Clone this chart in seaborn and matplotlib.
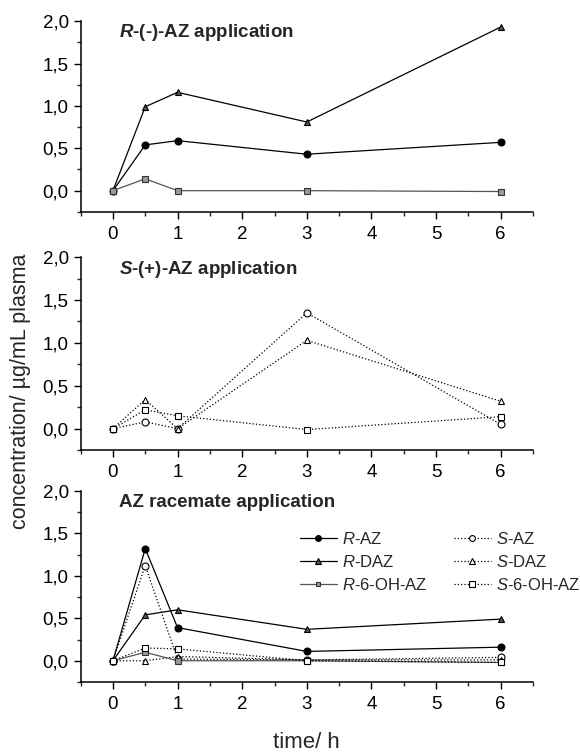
import numpy as np
import pandas as pd
import matplotlib
matplotlib.use("Agg")
import matplotlib.pyplot as plt
import seaborn as sns
from matplotlib.ticker import MultipleLocator, FuncFormatter
from matplotlib.lines import Line2D

sns.set_style("ticks")
plt.rcParams['font.family'] = ['Liberation Sans', 'DejaVu Sans']
plt.rcParams['mathtext.fontset'] = 'custom'
plt.rcParams['mathtext.rm'] = 'Liberation Sans'
plt.rcParams['mathtext.it'] = 'Liberation Sans:italic'
plt.rcParams['mathtext.bf'] = 'Liberation Sans:bold'
plt.rcParams['mathtext.bfit'] = 'Liberation Sans:italic:bold'

time_h = [0, 0.5, 1, 3, 6]

# Panel 1: R-(-)-AZ application
p1_R_AZ = [0, 0.54, 0.59, 0.43, 0.57]
p1_R_DAZ = [0, 0.99, 1.16, 0.81, 1.93]
p1_R_6OH = [0, 0.14, 0.0, 0.0, -0.01]

# Panel 2: S-(+)-AZ application
p2_S_AZ = [0, 0.08, 0.0, 1.35, 0.05]
p2_S_DAZ = [0, 0.34, 0.0, 1.03, 0.32]
p2_S_6OH = [0, 0.22, 0.15, -0.01, 0.14]

# Panel 3: AZ racemate application
p3_R_AZ = [0, 1.32, 0.39, 0.11, 0.16]
p3_S_AZ = [0, 1.12, 0.02, 0.01, 0.04]
p3_R_DAZ = [0, 0.54, 0.60, 0.37, 0.49]
p3_S_DAZ = [0, 0.0, 0.05, 0.01, 0.01]
p3_R_6OH = [0, 0.10, 0.0, 0.0, -0.02]
p3_S_6OH = [0, 0.15, 0.14, 0.0, -0.02]

panel_titles = [r"$\mathbfit{R}$-(-)-AZ application",
                r"$\mathbfit{S}$-(+)-AZ application",
                "AZ racemate application"]

series_labels = {
    "R_AZ": r"$\mathit{R}$-AZ", "R_DAZ": r"$\mathit{R}$-DAZ", "R_6OH": r"$\mathit{R}$-6-OH-AZ",
    "S_AZ": r"$\mathit{S}$-AZ", "S_DAZ": r"$\mathit{S}$-DAZ", "S_6OH": r"$\mathit{S}$-6-OH-AZ",
}

styles = {
    "R_AZ": dict(marker="o", mfc="black", mec="black", ls="-", lc="black", ms=5),
    "R_DAZ": dict(marker="^", mfc="#555555", mec="black", ls="-", lc="black", ms=5),
    "R_6OH": dict(marker="s", mfc="#999999", mec="#333333", ls="-", lc="#555555", ms=4),
    "S_AZ": dict(marker="o", mfc="white", mec="black", ls=":", lc="black", ms=5),
    "S_DAZ": dict(marker="^", mfc="white", mec="black", ls=":", lc="black", ms=5),
    "S_6OH": dict(marker="s", mfc="white", mec="black", ls=":", lc="black", ms=4.5),
}

panels = [
    {"R_AZ": p1_R_AZ, "R_DAZ": p1_R_DAZ, "R_6OH": p1_R_6OH},
    {"S_AZ": p2_S_AZ, "S_DAZ": p2_S_DAZ, "S_6OH": p2_S_6OH},
    {"R_AZ": p3_R_AZ, "S_AZ": p3_S_AZ, "R_DAZ": p3_R_DAZ, "S_DAZ": p3_S_DAZ,
     "R_6OH": p3_R_6OH, "S_6OH": p3_S_6OH},
]

fig = plt.figure(figsize=(5.8, 7.54), dpi=100)
left, right = 0.139, 0.919
boxes = [(0.719, 0.972), (0.403, 0.659), (0.0955, 0.349)]

comma = FuncFormatter(lambda v, p: f"{v:.1f}".replace(".", ","))

for i, (bottom, top) in enumerate(boxes):
    ax = fig.add_axes([left, bottom, right - left, top - bottom])
    for key, vals in panels[i].items():
        st = styles[key]
        df = pd.DataFrame({"t": time_h, "c": vals})
        sns.lineplot(data=df, x="t", y="c", ax=ax, color=st["lc"], linestyle=st["ls"],
                     linewidth=0.9, marker=st["marker"], markersize=st["ms"],
                     markerfacecolor=st["mfc"], markeredgecolor=st["mec"],
                     markeredgewidth=0.8, legend=False, zorder=3)
    ax.set_xlim(-0.5, 6.5)
    ax.set_ylim(-0.25, 2.0)
    ax.xaxis.set_major_locator(MultipleLocator(1))
    ax.xaxis.set_minor_locator(MultipleLocator(0.5))
    ax.yaxis.set_major_locator(MultipleLocator(0.5))
    ax.yaxis.set_minor_locator(MultipleLocator(0.25))
    ax.yaxis.set_major_formatter(comma)
    ax.set_yticks([0.0, 0.5, 1.0, 1.5, 2.0])
    ax.tick_params(axis="both", which="major", direction="out", length=5, width=1,
                   labelsize=13.5, colors="black")
    ax.tick_params(axis="both", which="minor", direction="out", length=3, width=1)
    ax.tick_params(axis="x", pad=5)
    sns.despine(ax=ax)
    for sp in ["left", "bottom"]:
        ax.spines[sp].set_linewidth(1.1)
        ax.spines[sp].set_color("black")
    ax.set_xlabel("")
    ax.set_ylabel("")
    ax.text(0.1, 1.86, panel_titles[i], fontsize=13.5, fontweight="bold",
            ha="left", va="center")
    if i == 2:
        ax.set_xlabel("time/ h", fontsize=16, labelpad=14)
        order = ["R_AZ", "R_DAZ", "R_6OH", "S_AZ", "S_DAZ", "S_6OH"]
        handles = []
        for key in order:
            st = styles[key]
            handles.append(Line2D([], [], color=st["lc"], linestyle=st["ls"], linewidth=0.9,
                                  marker=st["marker"], markersize=st["ms"] - 0.8,
                                  markerfacecolor=st["mfc"], markeredgecolor=st["mec"],
                                  markeredgewidth=0.8))
        fig.legend(handles, [series_labels[k] for k in order], ncol=2, frameon=False,
                   loc="upper left", bbox_to_anchor=(0.503, 0.307), fontsize=12,
                   handlelength=2.2, handletextpad=0.3, columnspacing=1.6,
                   labelspacing=0.42, borderpad=0.0)

fig.text(0.035, 0.481, "concentration/ µg/mL plasma", rotation=90, fontsize=15.5,
         ha="center", va="center")

fig.savefig("out.png", dpi=100)
